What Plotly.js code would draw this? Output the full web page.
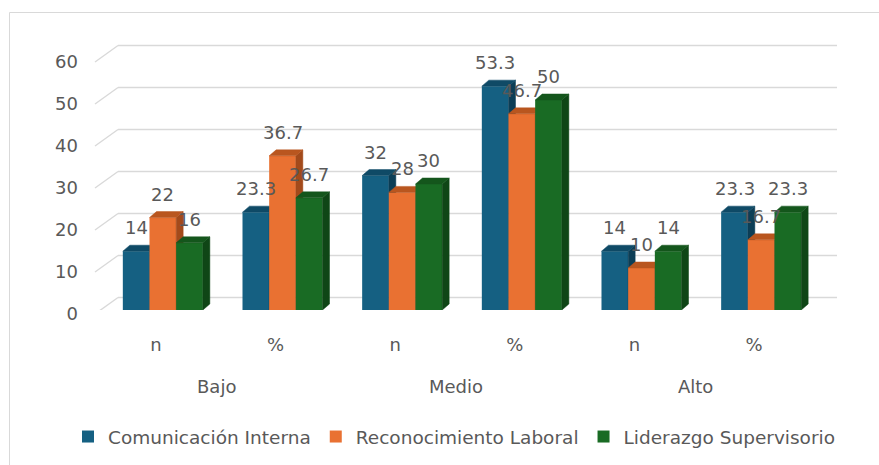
<!DOCTYPE html>
<html>
<head>
<meta charset="utf-8">
<script src="https://cdn.plot.ly/plotly-3.0.1.min.js"></script>
<style>
  html, body { margin: 0; padding: 0; background: #ffffff; }
  #chart { width: 879px; height: 465px; }
</style>
</head>
<body>
<div id="chart"></div>
<script>
// Categories and values
const categories = ['n', '%', 'n', '%', 'n', '%'];
const groups = ['Bajo', 'Medio', 'Alto'];
const seriesNames = ['Comunicación Interna', 'Reconocimiento Laboral', 'Liderazgo Supervisorio'];
const comunicacion = [14, 23.3, 32, 53.3, 14, 23.3];
const reconocimiento = [22, 36.7, 28, 46.7, 10, 16.7];
const liderazgo = [16, 26.7, 30, 50, 14, 23.3];
const yTicks = [0, 10, 20, 30, 40, 50, 60];

// Styling
const frontColors = ['#156082', '#E97132', '#196B24'];
const topColors = ['#0f4a66', '#b9561f', '#14561c'];
const sideColors = ['#0c3e56', '#a34a1b', '#0f4616'];
const textColor = '#595959';
const gridColor = '#d9d9d9';
const fontFamily = '"DejaVu Sans", "Liberation Sans", sans-serif';

// Frame geometry (pixels)
const W = 879, H = 465;
const M = { l: 9, r: 0, t: 40, b: 155 };
const plotW = W - M.l - M.r;
const plotH = H - M.t - M.b;
const axisLeft = 103, axisRight = 821;   // category band of the bars
const pxPerY = 4.2;
const yMax = plotH / pxPerY;
const pxPerX = (axisRight - axisLeft) / categories.length;

const barW = 26.67 / pxPerX;          // bar width in category units
const depthX = 7 / pxPerX;            // bar depth, horizontal
const depthY = 6 / pxPerY;            // bar depth, vertical
const backShiftY = 12.5 / pxPerY;     // back wall offset above bar plane
const frontShiftY = -4 / pxPerY;      // front floor edge below bar plane
const pxToPaperX = p => (p - M.l) / plotW;
const pxToPaperY = p => (H - M.b - p) / plotH;

const series = [comunicacion, reconocimiento, liderazgo];
const xs = categories.map((_, i) => i);
const yAxisIds = ['y', 'y2', 'y3'];

const traces = [];
const annotations = [];

series.forEach((vals, k) => {
  const offset = -1.5 * barW + k * barW;
  const yId = yAxisIds[k];

  // front faces
  traces.push({
    type: 'bar', name: seriesNames[k], x: xs, y: vals,
    width: barW, offset: offset,
    marker: { color: frontColors[k], line: { width: 0 } },
    xaxis: 'x', yaxis: yId, hoverinfo: 'skip'
  });

  // side faces and top faces
  const sx = [], sy = [], tx = [], ty = [];
  vals.forEach((v, i) => {
    const L = i + offset, R = L + barW;
    sx.push(R, R + depthX, R + depthX, R, R, null);
    sy.push(0, depthY, v + depthY, v, 0, null);
    tx.push(L, R, R + depthX, L + depthX, L, null);
    ty.push(v, v, v + depthY, v + depthY, v, null);

    annotations.push({
      x: L + barW / 2, y: v, xref: 'x', yref: yId,
      text: String(v), showarrow: false, yshift: 23.5,
      font: { family: fontFamily, size: 18, color: textColor }
    });
  });
  traces.push({
    type: 'scatter', mode: 'lines', x: sx, y: sy, fill: 'toself',
    fillcolor: sideColors[k], line: { color: sideColors[k], width: 0.5 },
    xaxis: 'x', yaxis: yId, showlegend: false, hoverinfo: 'skip'
  });
  traces.push({
    type: 'scatter', mode: 'lines', x: tx, y: ty, fill: 'toself',
    fillcolor: topColors[k], line: { color: topColors[k], width: 0.5 },
    xaxis: 'x', yaxis: yId, showlegend: false, hoverinfo: 'skip'
  });
});

// Group labels under the category ticks
groups.forEach((g, j) => {
  annotations.push({
    x: 2 * j + 0.5, y: 0, xref: 'x', yref: 'paper',
    yanchor: 'middle', yshift: -76, xshift: -6,
    text: g, showarrow: false,
    font: { family: fontFamily, size: 18, color: textColor }
  });
});

// Back wall gridlines and floor diagonals
const shapes = [];
yTicks.forEach(v => {
  shapes.push({
    type: 'line', layer: 'below', xref: 'paper', yref: 'y',
    x0: pxToPaperX(118), x1: pxToPaperX(837),
    y0: v + backShiftY, y1: v + backShiftY,
    line: { color: gridColor, width: 1.4 }
  });
  shapes.push({
    type: 'line', layer: 'below', xref: 'paper', yref: 'y',
    x0: pxToPaperX(95), x1: pxToPaperX(118),
    y0: v + frontShiftY, y1: v + backShiftY,
    line: { color: gridColor, width: 1.4 }
  });
});
// Chart area border
shapes.push({
  type: 'rect', layer: 'below', xref: 'paper', yref: 'paper',
  x0: pxToPaperX(9.5), x1: pxToPaperX(W + 20),
  y0: pxToPaperY(H + 20), y1: pxToPaperY(12.5),
  line: { color: gridColor, width: 1 }, fillcolor: 'rgba(0,0,0,0)'
});

const hiddenY = { overlaying: 'y', range: [0, yMax], visible: false, fixedrange: true };

const layout = {
  width: W, height: H,
  margin: M,
  paper_bgcolor: '#ffffff', plot_bgcolor: 'rgba(0,0,0,0)',
  barmode: 'overlay',
  showlegend: true,
  font: { family: fontFamily, size: 18, color: textColor },
  xaxis: {
    domain: [pxToPaperX(axisLeft), pxToPaperX(axisRight)],
    range: [-0.5, categories.length - 0.5],
    tickvals: xs, ticktext: categories,
    showgrid: false, zeroline: false, showline: false, ticks: '',
    ticklabelshift: -7, ticklabelstandoff: 22,
    tickfont: { family: fontFamily, size: 18, color: textColor },
    fixedrange: true
  },
  yaxis: {
    anchor: 'x',
    range: [0, yMax],
    tickvals: yTicks, ticktext: yTicks.map(String),
    showgrid: false, zeroline: false, showline: false, ticks: '',
    ticklabelshift: 4, ticklabelstandoff: 24,
    tickfont: { family: fontFamily, size: 18, color: textColor },
    fixedrange: true
  },
  yaxis2: hiddenY,
  yaxis3: Object.assign({}, hiddenY),
  legend: {
    orientation: 'h', x: pxToPaperX(454.5), xanchor: 'center',
    y: pxToPaperY(437), yanchor: 'middle',
    font: { family: fontFamily, size: 18.5, color: textColor },
    bgcolor: 'rgba(0,0,0,0)', itemclick: false, itemdoubleclick: false
  },
  shapes: shapes,
  annotations: annotations
};

Plotly.newPlot('chart', traces, layout, { displayModeBar: false, staticPlot: true });
</script>
</body>
</html>
